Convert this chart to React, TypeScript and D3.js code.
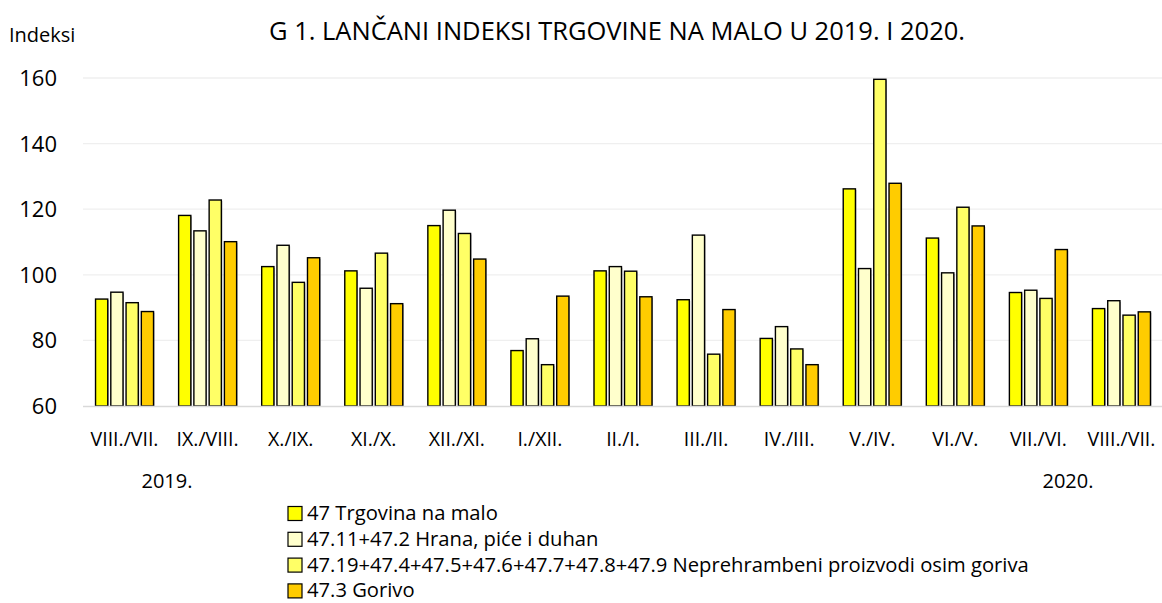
import React from "react";
import * as d3 from "d3";

const categories = ["VIII./VII.", "IX./VIII.", "X./IX.", "XI./X.", "XII./XI.", "I./XII.", "II./I.", "III./II.", "IV./III.", "V./IV.", "VI./V.", "VII./VI.", "VIII./VII."];
const seriesNames = [
  "47 Trgovina na malo",
  "47.11+47.2 Hrana, piće i duhan",
  "47.19+47.4+47.5+47.6+47.7+47.8+47.9 Neprehrambeni proizvodi osim goriva",
  "47.3 Gorivo",
];
const s1 = [92.6, 118.1, 102.5, 101.2, 115.0, 76.9, 101.2, 92.4, 80.6, 126.2, 111.2, 94.6, 89.7];
const s2 = [94.7, 113.4, 109.0, 95.9, 119.7, 80.5, 102.5, 112.1, 84.2, 101.9, 100.6, 95.3, 92.1];
const s3 = [91.5, 122.8, 97.7, 106.6, 112.6, 72.6, 101.1, 75.8, 77.4, 159.6, 120.6, 92.8, 87.7];
const s4 = [88.8, 110.1, 105.2, 91.2, 104.8, 93.5, 93.3, 89.4, 72.6, 127.9, 114.9, 107.7, 88.7];
const yTicks = [60, 80, 100, 120, 140, 160];
const colors = ["#FFFF00", "#FFFFCC", "#FFFF66", "#FFCC00"];

const W = 1162, H = 603;
const FONT = "'Open Sans', sans-serif";

export default function App() {
  const series = [s1, s2, s3, s4];
  const x = d3.scaleBand<string>().domain(categories.map((c, i) => String(i))).range([83, 1163]).paddingInner(0).paddingOuter(0);
  const y = d3.scaleLinear().domain([60, 160]).range([406, 78]);
  const inner = d3.scaleBand<number>().domain([0, 1, 2, 3]).range([0, 58]).paddingInner(0.2);
  const groupOffset = (x.bandwidth() - 58) / 2;

  return (
    <svg width={W} height={H} style={{ position: "absolute", left: 0, top: 0, background: "#fff" }} fontFamily={FONT}>
      <text x={617} y={40} textAnchor="middle" fontSize={25.5} fill="#000">G 1. LANČANI INDEKSI TRGOVINE NA MALO U 2019. I 2020.</text>
      <text x={9} y={42} fontSize={20} fill="#000">Indeksi</text>
      {yTicks.map((t) => (
        <g key={t}>
          {t !== 60 && <line x1={83} x2={1162} y1={y(t)} y2={y(t)} stroke="#efefef" strokeWidth={1.3} />}
          <text x={57} y={y(t) + 8} textAnchor="end" fontSize={22} fill="#000">{t}</text>
        </g>
      ))}
      {categories.map((c, i) => (
        <g key={i} transform={`translate(${(x(String(i)) as number) + groupOffset},0)`}>
          {series.map((s, k) => {
            const bx = inner(k) as number;
            const bw = inner.bandwidth();
            const top = y(s[i]);
            return (
              <g key={k}>
                <rect x={bx + 1} y={top + 1} width={bw} height={406 - top} fill="#b0b0b0" />
                <rect x={bx} y={top} width={bw} height={406 - top} fill={colors[k]} stroke="#000" strokeWidth={1.4} />
              </g>
            );
          })}
        </g>
      ))}
      <line x1={83} x2={1162} y1={406.5} y2={406.5} stroke="#d9d9d9" strokeWidth={1.5} />
      {categories.map((c, i) => (
        <text key={i} x={(x(String(i)) as number) + x.bandwidth() / 2} y={446} textAnchor="middle" fontSize={19.5} fill="#000">{c}</text>
      ))}
      <text x={167} y={488} textAnchor="middle" fontSize={20} fill="#000">2019.</text>
      <text x={1068} y={488} textAnchor="middle" fontSize={20} fill="#000">2020.</text>
      {seriesNames.map((n, k) => (
        <g key={k} transform={`translate(288,${513.5 + k * 25.8})`}>
          <rect x={0} y={-7} width={14} height={14} fill={colors[k]} stroke="#000" strokeWidth={1.2} />
          <text x={19} y={6.5} fontSize={20.2} fill="#000">{n}</text>
        </g>
      ))}
    </svg>
  );
}
